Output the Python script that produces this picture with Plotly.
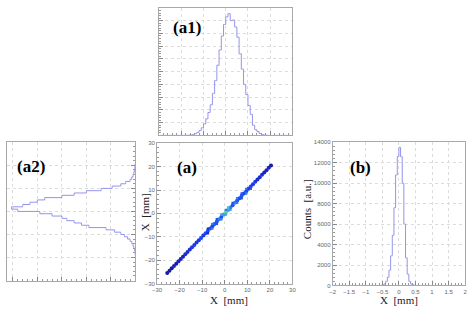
import numpy as np
import plotly.graph_objects as go

# ---------------- data ----------------
# 1 mm bins from -30 to 30 (centers)
bin_centers_mm = np.arange(-29.5, 30.0, 1.0)

# (a1) projection histogram (arbitrary units)
a1_counts = [0, 0, 0, 0, 0, 0, 0, 0, 0, 0,
             0, 0, 0.01, 0.02, 0.04, 0.08, 0.14, 0.24, 0.38, 0.6,
             0.9, 1.3, 1.8, 2.4, 3.3, 4.3, 5.5, 6.7, 7.8, 8.7,
             9.3, 9.55, 9.0, 9.05, 8.5, 7.7, 6.4, 5.2, 4.0, 3.2,
             2.35, 1.65, 0.8, 0.45, 0.3, 0.15, 0.07, 0.03, 0.01, 0,
             0, 0, 0, 0, 0, 0, 0, 0, 0, 0]

# (a2) projection histogram (arbitrary units), indexed by X bin
a2_counts = [0, 0, 0, 0, 0, 0, 0, 0, 0, 0,
             0, 0.01, 0.02, 0.04, 0.07, 0.1, 0.15, 0.22, 0.32, 0.45,
             0.6, 0.85, 1.2, 1.9, 2.2, 2.5, 2.8, 3.0, 3.4, 3.9,
             4.8, 5.05, 4.6, 4.3, 4.0, 3.7, 3.0, 2.5, 2.0, 1.4,
             0.95, 0.6, 0.4, 0.22, 0.15, 0.1, 0.07, 0.05, 0.03, 0.02,
             0.01, 0, 0, 0, 0, 0, 0, 0, 0, 0]

# (a) 2D histogram: diagonal cells and the two neighbouring off-diagonals
diag_counts = [0, 0, 0, 0,
               1, 1, 1, 2, 1, 2, 2, 2, 3, 3,
               3, 4, 4, 4, 4, 5, 4, 5, 5, 6,
               5, 6, 6, 7, 6, 8, 10, 8, 7, 6,
               7, 6, 5, 6, 5, 5, 4, 5, 4, 4,
               3, 3, 3, 2, 2, 2, 1,
               0, 0, 0, 0, 0, 0, 0, 0, 0]
upper_counts = [0, 0, 0, 0, 0, 0, 0, 0, 0, 0,
                0, 0, 0, 0, 0, 0, 0, 0, 0, 0,
                0, 0, 3, 0, 7, 0, 6, 0, 8, 0,
                7, 9, 0, 6, 0, 7, 0, 6, 0, 7,
                0, 0, 0, 0, 0, 0, 0, 0, 0, 0,
                0, 0, 0, 0, 0, 0, 0, 0, 0, 0]
lower_counts = [0, 0, 0, 0, 0, 0, 0, 0, 0, 0,
                0, 0, 0, 0, 0, 0, 0, 0, 0, 0,
                0, 3, 0, 7, 0, 6, 0, 7, 0, 8,
                0, 8, 0, 0, 7, 0, 6, 0, 7, 0,
                6, 0, 0, 0, 0, 0, 0, 0, 0, 0,
                0, 0, 0, 0, 0, 0, 0, 0, 0, 0]

# (b) residual histogram, 0.05 mm bins from -2 to 2
b_centers = np.arange(-1.975, 2.0, 0.05)
b_counts_core = {  # bin center -> counts
    -0.525: 20, -0.475: 60, -0.425: 150, -0.375: 400, -0.325: 800,
    -0.275: 1500, -0.225: 2900, -0.175: 4900, -0.125: 7600, -0.075: 10800,
    -0.025: 12600, 0.025: 13500, 0.075: 12600, 0.125: 10000, 0.175: 6000,
    0.225: 2700, 0.275: 1100, 0.325: 400, 0.375: 150, 0.425: 60, 0.475: 20,
}
b_counts = [b_counts_core.get(round(c, 3), 0) for c in b_centers]

# tick labels
a_ticks = [-30, -20, -10, 0, 10, 20, 30]
b_xticks = [-2, -1.5, -1, -0.5, 0, 0.5, 1, 1.5, 2]
b_yticks = [0, 2000, 4000, 6000, 8000, 10000, 12000, 14000]

# ---------------- figure ----------------
W, H = 476, 313
HIST_COLOR = "#9494ec"
GRID = dict(showgrid=True, gridcolor="#dcdcdc", griddash="dot", gridwidth=1)
FRAME = dict(showline=True, linecolor="#a8a8a8", linewidth=1, mirror=True,
             zeroline=False, ticks="inside", ticklen=4, tickcolor="#888",
             tickfont=dict(size=6, color="#666", family="Liberation Sans"))
COLORSCALE = [[0.0, "#14148c"], [0.2, "#1a22c0"], [0.4, "#1c3ae6"],
              [0.6, "#2052f5"], [0.75, "#3a90f5"], [0.9, "#40c0e8"],
              [1.0, "#60d890"]]


def px_x(a, b):
    return [a / W, b / W]


def px_y(top, bottom):
    return [1 - bottom / H, 1 - top / H]


fig = go.Figure()

# (a1)
fig.add_trace(go.Scatter(x=bin_centers_mm, y=a1_counts, mode="lines",
                         line=dict(shape="hvh", color=HIST_COLOR, width=1),
                         xaxis="x", yaxis="y", showlegend=False))
# (a2)
fig.add_trace(go.Scatter(x=a2_counts, y=bin_centers_mm, mode="lines",
                         line=dict(shape="vhv", color=HIST_COLOR, width=1),
                         xaxis="x2", yaxis="y2", showlegend=False))

# (a) 2D histogram drawn as coloured markers at the filled bins
dx, dy, dc = [], [], []
for c, v in zip(bin_centers_mm, diag_counts):
    if v > 0:
        dx.append(c); dy.append(c); dc.append(v)
fig.add_trace(go.Scatter(x=dx, y=dy, mode="markers",
                         marker=dict(symbol="circle", size=4, color=dc,
                                     cmin=0, cmax=10, colorscale=COLORSCALE,
                                     line=dict(width=0)),
                         xaxis="x3", yaxis="y3", showlegend=False))
ox, oy, oc = [], [], []
for i, c in enumerate(bin_centers_mm[:-1]):
    if upper_counts[i] > 0:
        ox.append(c); oy.append(bin_centers_mm[i + 1]); oc.append(upper_counts[i])
    if lower_counts[i] > 0:
        ox.append(bin_centers_mm[i + 1]); oy.append(c); oc.append(lower_counts[i])
fig.add_trace(go.Scatter(x=ox, y=oy, mode="markers",
                         marker=dict(symbol="square", size=2.4, color=oc,
                                     cmin=0, cmax=10, colorscale=COLORSCALE,
                                     line=dict(width=0)),
                         xaxis="x3", yaxis="y3", showlegend=False))
# (b)
fig.add_trace(go.Scatter(x=b_centers, y=b_counts, mode="lines",
                         line=dict(shape="hvh", color=HIST_COLOR, width=1),
                         xaxis="x4", yaxis="y4", showlegend=False))

minor_small = dict(ticks="inside", ticklen=2, tickcolor="#999", showgrid=False)

fig.update_layout(
    width=W, height=H, margin=dict(l=0, r=0, t=0, b=0),
    paper_bgcolor="white", plot_bgcolor="white",
    # (a1)
    xaxis=dict(domain=px_x(157, 293), range=[-30, 30], dtick=10, tick0=0,
               showticklabels=False, minor=dict(dtick=2, **minor_small),
               anchor="y", **GRID, **FRAME),
    yaxis=dict(domain=px_y(5, 135), range=[0, 10], dtick=1,
               showticklabels=False, minor=dict(dtick=0.2, **minor_small),
               anchor="x", **GRID, **FRAME),
    # (a2)
    xaxis2=dict(domain=px_x(2, 133), range=[5.24, 0], dtick=1,
                showticklabels=False, minor=dict(dtick=0.2, **minor_small),
                anchor="y2", **GRID, **FRAME),
    yaxis2=dict(domain=px_y(142, 283), range=[-30, 30], dtick=10, tick0=0,
                side="right", showticklabels=False,
                minor=dict(dtick=2, **minor_small),
                anchor="x2", **GRID, **FRAME),
    # (a)
    xaxis3=dict(domain=px_x(155, 293), range=[-30, 30], tickvals=a_ticks,
                minor=dict(dtick=2, **minor_small),
                anchor="y3", **GRID, **FRAME),
    yaxis3=dict(domain=px_y(143, 286), range=[-30, 30], tickvals=a_ticks,
                minor=dict(dtick=2, **minor_small),
                anchor="x3", **GRID, **FRAME),
    # (b)
    xaxis4=dict(domain=px_x(334, 469), range=[-2, 2], tickvals=b_xticks,
                minor=dict(dtick=0.1, **minor_small),
                anchor="y4", **GRID, **FRAME),
    yaxis4=dict(domain=px_y(142, 288), range=[0, 14000], tickvals=b_yticks,
                ticktext=[str(v) for v in b_yticks],
                minor=dict(dtick=400, **minor_small),
                anchor="x4", **GRID, **FRAME),
)

SERIF = "Liberation Serif, Times New Roman, DejaVu Serif, serif"
LABEL_FONT = dict(family=SERIF, size=17, color="black")
TITLE_FONT = dict(family=SERIF, size=11, color="#222")


def ann(text, xp, yp, font, angle=0):
    fig.add_annotation(text=text, x=xp / W, y=1 - yp / H, xref="paper",
                       yref="paper", showarrow=False, font=font,
                       textangle=angle, xanchor="center", yanchor="middle")


NB = "\u00a0"
ann("<b>(a1)</b>", 186, 25, LABEL_FONT)
ann("<b>(a2)</b>", 26, 167, LABEL_FONT)
ann("<b>(a)</b>", 185, 168, LABEL_FONT)
ann("<b>(b)</b>", 362, 168, LABEL_FONT)
ann(f"X{NB}{NB}[mm]", 228, 303, TITLE_FONT)
ann(f"X{NB}{NB}[mm]", 143, 213, TITLE_FONT, angle=-90)
ann(f"X{NB}{NB}[mm]", 402, 303, TITLE_FONT)
ann(f"Counts{NB}{NB}[a.u.]", 308, 210, TITLE_FONT, angle=-90)

fig.write_html("out.html",
               config={"displayModeBar": False},
               post_script="document.body.style.margin='0';"
                           "document.body.style.overflow='hidden';")
